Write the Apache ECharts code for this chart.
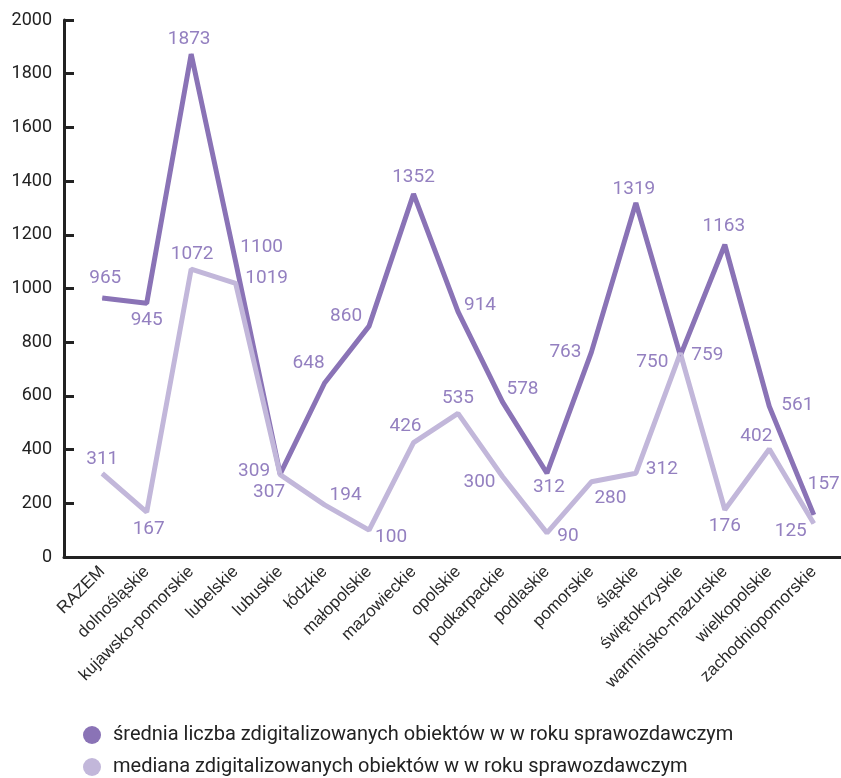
<!DOCTYPE html>
<html><head><meta charset="utf-8">
<script src="https://cdn.jsdelivr.net/npm/echarts@6/dist/echarts.min.js"></script>
<style>html,body{margin:0;padding:0;background:#fff}#c{width:841px;height:778px}</style>
</head><body><div id="c"></div>
<script>
const categories = ['RAZEM','dolnośląskie','kujawsko-pomorskie','lubelskie','lubuskie','łódzkie','małopolskie','mazowieckie','opolskie','podkarpackie','podlaskie','pomorskie','śląskie','świętokrzyskie','warmińsko-mazurskie','wielkopolskie','zachodniopomorskie'];
const meanValues = [965,945,1873,1100,309,648,860,1352,914,578,312,763,1319,750,1163,561,157];
const medianValues = [311,167,1072,1019,307,194,100,426,535,300,90,280,312,759,176,402,125];
const seriesNames = ['średnia liczba zdigitalizowanych obiektów w w roku sprawozdawczym','mediana zdigitalizowanych obiektów w w roku sprawozdawczym'];
const yTicks = {min:0, max:2000, interval:200};
// label offsets (px) from each point
const meanLabelOffsets = [[3,-20],[0,17],[-2,-15],[26,-14],[-26,-3],[-16,-20],[-23,-10],[0,-17],[22,-6],[20,-13],[2,14],[-26,0],[-2,-14],[-28,7],[-1,-18],[28,-1],[10,-31]];
const medianLabelOffsets = [[0,-14],[2,17],[1,-15],[31,-5],[-11,18],[21,-10],[22,7],[-8,-16],[0,-15],[-23,6],[21,3],[19,16],[26,-4],[27,2],[0,17],[-13,-13],[-23,8]];

const NUMFONT = 'Roboto, "Liberation Sans", sans-serif';
const CATFONT = '"Liberation Sans", Arial, sans-serif';
const DARK = '#8a73b6', LIGHT = '#c2b7da', LABEL = '#9480c0', TEXT = '#222';

function mk(values, offs){
  return values.map((v,i)=>({value:v, label:{offset:offs[i]}}));
}
function legendAt(name, top){
  return {orient:'horizontal', left:83, top:top, padding:0, itemWidth:18, itemHeight:18, icon:'circle',
    textStyle:{fontSize:20, color:TEXT, fontFamily:NUMFONT, padding:[0,0,0,7]}, data:[name]};
}
const chart = echarts.init(document.getElementById('c'), null, {renderer:'canvas'});
chart.setOption({
  animation:false,
  grid:[
    {left:80, right:5, top:20, bottom:221},
    {left:64, right:0, top:20, bottom:221}
  ],
  legend:[legendAt(seriesNames[0], 725), legendAt(seriesNames[1], 757)],
  xAxis:[
    {type:'category', gridIndex:0, data:categories, boundaryGap:true,
     axisLine:{show:false}, axisTick:{show:false},
     axisLabel:{rotate:45, fontSize:17, color:'#2a2a2a', margin:12, interval:0, fontFamily:CATFONT}},
    {type:'value', gridIndex:1, min:0, max:1, axisLine:{show:true, lineStyle:{color:'#222', width:3}},
     axisTick:{show:false}, axisLabel:{show:false}, splitLine:{show:false}}
  ],
  yAxis:[
    {type:'value', gridIndex:0, min:yTicks.min, max:yTicks.max, interval:yTicks.interval, show:false, splitLine:{show:false}},
    {type:'value', gridIndex:1, min:yTicks.min, max:yTicks.max, interval:yTicks.interval,
     axisLine:{show:true, lineStyle:{color:'#222', width:3}},
     axisTick:{show:true, inside:true, length:10, lineStyle:{color:'#222', width:3}},
     axisLabel:{fontSize:18, color:TEXT, margin:12, fontFamily:NUMFONT, formatter:(v)=>String(v)},
     splitLine:{show:false}}
  ],
  series:[
    {name:seriesNames[0], type:'line', xAxisIndex:0, yAxisIndex:0, data:mk(meanValues, meanLabelOffsets),
     symbol:'circle', symbolSize:1, showSymbol:true, itemStyle:{color:DARK},
     lineStyle:{color:DARK, width:5},
     label:{show:true, position:'inside', color:LABEL, fontSize:19, fontFamily:NUMFONT, formatter:(p)=>String(p.value)}},
    {name:seriesNames[1], type:'line', xAxisIndex:0, yAxisIndex:0, data:mk(medianValues, medianLabelOffsets),
     symbol:'circle', symbolSize:1, showSymbol:true, itemStyle:{color:LIGHT},
     lineStyle:{color:LIGHT, width:5},
     label:{show:true, position:'inside', color:LABEL, fontSize:19, fontFamily:NUMFONT, formatter:(p)=>String(p.value)}}
  ]
});
</script></body></html>
